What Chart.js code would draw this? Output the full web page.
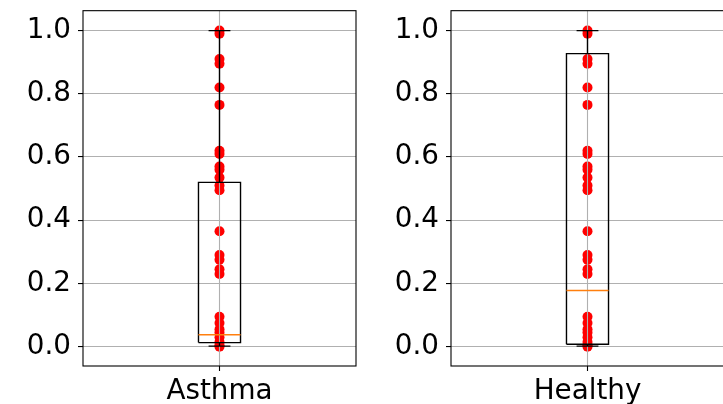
<!DOCTYPE html>
<html>
<head>
<meta charset="utf-8">
<script src="https://cdn.jsdelivr.net/npm/chart.js@4/dist/chart.umd.min.js"></script>
<style>
  html, body { margin: 0; padding: 0; background: #fff; overflow: hidden; width: 723px; height: 404px; position: relative; }
  canvas { position: absolute; top: -13px; }
</style>
</head>
<body>
<canvas id="panel0" width="374" height="417" style="left:0px"></canvas>
<canvas id="panel1" width="374" height="417" style="left:368px"></canvas>
<script>
// Group names, one panel each
const groups = ['Asthma', 'Healthy'];

// Individual scores overlaid on each box
const scores = [1.0, 0.99, 0.91, 0.895, 0.82, 0.765, 0.62, 0.61, 0.57, 0.56,
                0.535, 0.51, 0.495, 0.365, 0.29, 0.275, 0.245, 0.23,
                0.095, 0.075, 0.055, 0.045, 0.03, 0.015, 0.005, 0.0];

// Box statistics per group
const whiskerLow  = [0.002, 0.002];
const q1          = [0.013, 0.008];
const median      = [0.038, 0.178];
const q3          = [0.52, 0.927];
const whiskerHigh = [1.0, 1.0];

// Axis ticks
const yTicks = [0.0, 0.2, 0.4, 0.6, 0.8, 1.0];
const yMin = -0.061, yMax = 1.063;
const xPos = 1;

const BOX_HALF = 0.077;
const CAP_HALF = 0.04;
const FONT = { family: 'DejaVu Sans', size: 27.8 };

Chart.defaults.color = '#000';

const framePlugin = {
  id: 'frame',
  afterDatasetsDraw(chart) {
    const a = chart.chartArea, ctx = chart.ctx;
    ctx.save();
    ctx.strokeStyle = '#000';
    ctx.lineWidth = 1.1;
    ctx.strokeRect(a.left, a.top, a.right - a.left, a.bottom - a.top);
    ctx.restore();
  }
};

function seg(points, color, order, width) {
  return {
    type: 'scatter', data: points, showLine: true, fill: false,
    borderColor: color, borderWidth: width || 1.4, pointRadius: 0,
    tension: 0, order: order
  };
}

function makePanel(canvasId, g) {
  const datasets = [
    {
      type: 'scatter',
      data: scores.map(v => ({ x: xPos, y: v })),
      backgroundColor: '#ff0000', borderWidth: 0, pointRadius: 5,
      order: 5
    },
    // vertical grid line at the category tick, drawn over the dots
    seg([{ x: xPos, y: yMin }, { x: xPos, y: yMax }], '#b0b0b0', 4, 1.1),
    // box
    seg([{ x: xPos - BOX_HALF, y: q1[g] }, { x: xPos + BOX_HALF, y: q1[g] },
         { x: xPos + BOX_HALF, y: q3[g] }, { x: xPos - BOX_HALF, y: q3[g] },
         { x: xPos - BOX_HALF, y: q1[g] }], '#000', 2),
    // whiskers
    seg([{ x: xPos, y: q3[g] }, { x: xPos, y: whiskerHigh[g] }], '#000', 2),
    seg([{ x: xPos, y: q1[g] }, { x: xPos, y: whiskerLow[g] }], '#000', 2),
    // caps
    seg([{ x: xPos - CAP_HALF, y: whiskerHigh[g] }, { x: xPos + CAP_HALF, y: whiskerHigh[g] }], '#000', 2),
    seg([{ x: xPos - CAP_HALF, y: whiskerLow[g] }, { x: xPos + CAP_HALF, y: whiskerLow[g] }], '#000', 2),
    // median
    seg([{ x: xPos - BOX_HALF, y: median[g] }, { x: xPos + BOX_HALF, y: median[g] }], '#ff7f0e', 1)
  ];

  new Chart(document.getElementById(canvasId), {
    type: 'scatter',
    data: { datasets },
    plugins: [framePlugin],
    options: {
      responsive: false,
      animation: false,
      devicePixelRatio: 1,
      layout: { padding: { top: 10, right: 18, left: 0, bottom: 0 } },
      plugins: { legend: { display: false }, tooltip: { enabled: false } },
      scales: {
        x: {
          type: 'linear', min: 0.5, max: 1.5,
          afterBuildTicks: s => { s.ticks = [{ value: xPos }]; },
          afterFit: s => { s.height = 38; },
          ticks: { font: FONT, padding: 4, maxRotation: 0, callback: () => groups[g] },
          grid: { drawOnChartArea: false, drawTicks: true, tickLength: 5, tickColor: '#000', tickWidth: 1.1 },
          border: { display: false }
        },
        y: {
          type: 'linear', min: yMin, max: yMax,
          afterBuildTicks: s => { s.ticks = yTicks.map(v => ({ value: v })); },
          afterFit: s => { s.width = 83; },
          ticks: { font: FONT, padding: 7, callback: v => Number(v).toFixed(1) },
          grid: { color: '#b0b0b0', lineWidth: 1.1, drawTicks: true, tickLength: 5, tickColor: '#000', tickWidth: 1.1 },
          border: { display: false }
        }
      }
    }
  });
}

makePanel('panel0', 0);
makePanel('panel1', 1);
</script>
</body>
</html>
